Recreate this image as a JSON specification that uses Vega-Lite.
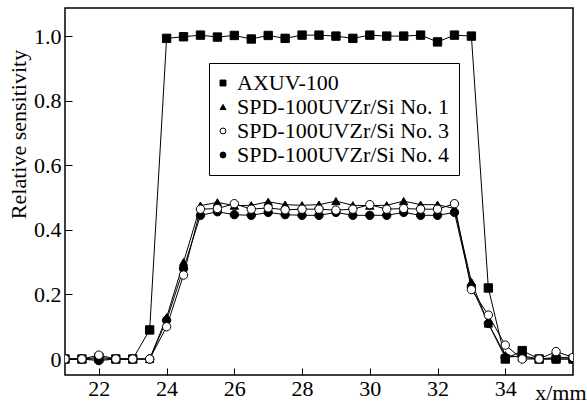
{
  "$schema": "https://vega.github.io/schema/vega-lite/v6.json",
  "width": 508,
  "height": 367,
  "autosize": {"type": "none"},
  "padding": {"left": 65, "top": 8, "right": 14, "bottom": 30},
  "background": "white",
  "config": {
    "font": "Liberation Serif, Times New Roman, serif",
    "view": {"stroke": "black", "strokeWidth": 1.5},
    "axis": {
      "labelFont": "Liberation Serif, Times New Roman, serif",
      "titleFont": "Liberation Serif, Times New Roman, serif",
      "labelColor": "black",
      "titleColor": "black",
      "tickColor": "black",
      "domain": false,
      "grid": false,
      "titleFontWeight": "normal"
    },
    "legend": {
      "labelFont": "Liberation Serif, Times New Roman, serif",
      "labelColor": "black",
      "labelLimit": 400,
      "symbolStrokeColor": "black"
    }
  },
  "data": {
    "values": [
      {"series": "AXUV-100", "x": 21, "y": 0},
      {"series": "AXUV-100", "x": 21.5, "y": 0},
      {"series": "AXUV-100", "x": 22, "y": 0.005},
      {"series": "AXUV-100", "x": 22.5, "y": 0},
      {"series": "AXUV-100", "x": 23, "y": 0},
      {"series": "AXUV-100", "x": 23.5, "y": 0.09},
      {"series": "AXUV-100", "x": 24, "y": 0.993},
      {"series": "AXUV-100", "x": 24.5, "y": 0.998},
      {"series": "AXUV-100", "x": 25, "y": 1.003},
      {"series": "AXUV-100", "x": 25.5, "y": 0.997},
      {"series": "AXUV-100", "x": 26, "y": 1.002},
      {"series": "AXUV-100", "x": 26.5, "y": 0.991},
      {"series": "AXUV-100", "x": 27, "y": 1.002},
      {"series": "AXUV-100", "x": 27.5, "y": 0.993},
      {"series": "AXUV-100", "x": 28, "y": 1.003},
      {"series": "AXUV-100", "x": 28.5, "y": 1.003},
      {"series": "AXUV-100", "x": 29, "y": 1.0},
      {"series": "AXUV-100", "x": 29.5, "y": 0.993},
      {"series": "AXUV-100", "x": 30, "y": 1.003},
      {"series": "AXUV-100", "x": 30.5, "y": 1.0},
      {"series": "AXUV-100", "x": 31, "y": 1.0},
      {"series": "AXUV-100", "x": 31.5, "y": 1.003},
      {"series": "AXUV-100", "x": 32, "y": 0.982},
      {"series": "AXUV-100", "x": 32.5, "y": 1.003},
      {"series": "AXUV-100", "x": 33, "y": 1.0},
      {"series": "AXUV-100", "x": 33.5, "y": 0.22},
      {"series": "AXUV-100", "x": 34, "y": 0.0},
      {"series": "AXUV-100", "x": 34.5, "y": 0.026},
      {"series": "AXUV-100", "x": 35, "y": 0},
      {"series": "AXUV-100", "x": 35.5, "y": 0},
      {"series": "AXUV-100", "x": 36, "y": 0},

      {"series": "SPD-100UVZr/Si No. 4", "x": 21, "y": 0},
      {"series": "SPD-100UVZr/Si No. 4", "x": 21.5, "y": 0},
      {"series": "SPD-100UVZr/Si No. 4", "x": 22, "y": -0.005},
      {"series": "SPD-100UVZr/Si No. 4", "x": 22.5, "y": 0},
      {"series": "SPD-100UVZr/Si No. 4", "x": 23, "y": 0},
      {"series": "SPD-100UVZr/Si No. 4", "x": 23.5, "y": 0},
      {"series": "SPD-100UVZr/Si No. 4", "x": 24, "y": 0.12},
      {"series": "SPD-100UVZr/Si No. 4", "x": 24.5, "y": 0.28},
      {"series": "SPD-100UVZr/Si No. 4", "x": 25, "y": 0.445},
      {"series": "SPD-100UVZr/Si No. 4", "x": 25.5, "y": 0.456},
      {"series": "SPD-100UVZr/Si No. 4", "x": 26, "y": 0.447},
      {"series": "SPD-100UVZr/Si No. 4", "x": 26.5, "y": 0.445},
      {"series": "SPD-100UVZr/Si No. 4", "x": 27, "y": 0.454},
      {"series": "SPD-100UVZr/Si No. 4", "x": 27.5, "y": 0.447},
      {"series": "SPD-100UVZr/Si No. 4", "x": 28, "y": 0.445},
      {"series": "SPD-100UVZr/Si No. 4", "x": 28.5, "y": 0.445},
      {"series": "SPD-100UVZr/Si No. 4", "x": 29, "y": 0.454},
      {"series": "SPD-100UVZr/Si No. 4", "x": 29.5, "y": 0.445},
      {"series": "SPD-100UVZr/Si No. 4", "x": 30, "y": 0.445},
      {"series": "SPD-100UVZr/Si No. 4", "x": 30.5, "y": 0.445},
      {"series": "SPD-100UVZr/Si No. 4", "x": 31, "y": 0.454},
      {"series": "SPD-100UVZr/Si No. 4", "x": 31.5, "y": 0.445},
      {"series": "SPD-100UVZr/Si No. 4", "x": 32, "y": 0.445},
      {"series": "SPD-100UVZr/Si No. 4", "x": 32.5, "y": 0.454},
      {"series": "SPD-100UVZr/Si No. 4", "x": 33, "y": 0.225},
      {"series": "SPD-100UVZr/Si No. 4", "x": 33.5, "y": 0.11},
      {"series": "SPD-100UVZr/Si No. 4", "x": 34, "y": 0.005},
      {"series": "SPD-100UVZr/Si No. 4", "x": 34.5, "y": 0.01},
      {"series": "SPD-100UVZr/Si No. 4", "x": 35, "y": 0},
      {"series": "SPD-100UVZr/Si No. 4", "x": 35.5, "y": 0},
      {"series": "SPD-100UVZr/Si No. 4", "x": 36, "y": 0},

      {"series": "SPD-100UVZr/Si No. 1", "x": 21, "y": 0},
      {"series": "SPD-100UVZr/Si No. 1", "x": 21.5, "y": 0},
      {"series": "SPD-100UVZr/Si No. 1", "x": 22, "y": 0},
      {"series": "SPD-100UVZr/Si No. 1", "x": 22.5, "y": 0},
      {"series": "SPD-100UVZr/Si No. 1", "x": 23, "y": 0},
      {"series": "SPD-100UVZr/Si No. 1", "x": 23.5, "y": 0},
      {"series": "SPD-100UVZr/Si No. 1", "x": 24, "y": 0.129},
      {"series": "SPD-100UVZr/Si No. 1", "x": 24.5, "y": 0.3},
      {"series": "SPD-100UVZr/Si No. 1", "x": 25, "y": 0.475},
      {"series": "SPD-100UVZr/Si No. 1", "x": 25.5, "y": 0.485},
      {"series": "SPD-100UVZr/Si No. 1", "x": 26, "y": 0.475},
      {"series": "SPD-100UVZr/Si No. 1", "x": 26.5, "y": 0.476},
      {"series": "SPD-100UVZr/Si No. 1", "x": 27, "y": 0.487},
      {"series": "SPD-100UVZr/Si No. 1", "x": 27.5, "y": 0.478},
      {"series": "SPD-100UVZr/Si No. 1", "x": 28, "y": 0.476},
      {"series": "SPD-100UVZr/Si No. 1", "x": 28.5, "y": 0.478},
      {"series": "SPD-100UVZr/Si No. 1", "x": 29, "y": 0.489},
      {"series": "SPD-100UVZr/Si No. 1", "x": 29.5, "y": 0.476},
      {"series": "SPD-100UVZr/Si No. 1", "x": 30, "y": 0.475},
      {"series": "SPD-100UVZr/Si No. 1", "x": 30.5, "y": 0.476},
      {"series": "SPD-100UVZr/Si No. 1", "x": 31, "y": 0.489},
      {"series": "SPD-100UVZr/Si No. 1", "x": 31.5, "y": 0.478},
      {"series": "SPD-100UVZr/Si No. 1", "x": 32, "y": 0.478},
      {"series": "SPD-100UVZr/Si No. 1", "x": 32.5, "y": 0.466},
      {"series": "SPD-100UVZr/Si No. 1", "x": 33, "y": 0.239},
      {"series": "SPD-100UVZr/Si No. 1", "x": 33.5, "y": 0.11},
      {"series": "SPD-100UVZr/Si No. 1", "x": 34, "y": 0.012},
      {"series": "SPD-100UVZr/Si No. 1", "x": 34.5, "y": 0.005},
      {"series": "SPD-100UVZr/Si No. 1", "x": 35, "y": 0},
      {"series": "SPD-100UVZr/Si No. 1", "x": 35.5, "y": 0.005},
      {"series": "SPD-100UVZr/Si No. 1", "x": 36, "y": 0.005},

      {"series": "SPD-100UVZr/Si No. 3", "x": 21, "y": 0},
      {"series": "SPD-100UVZr/Si No. 3", "x": 21.5, "y": 0},
      {"series": "SPD-100UVZr/Si No. 3", "x": 22, "y": 0.012},
      {"series": "SPD-100UVZr/Si No. 3", "x": 22.5, "y": 0},
      {"series": "SPD-100UVZr/Si No. 3", "x": 23, "y": 0},
      {"series": "SPD-100UVZr/Si No. 3", "x": 23.5, "y": 0},
      {"series": "SPD-100UVZr/Si No. 3", "x": 24, "y": 0.1},
      {"series": "SPD-100UVZr/Si No. 3", "x": 24.5, "y": 0.26},
      {"series": "SPD-100UVZr/Si No. 3", "x": 25, "y": 0.464},
      {"series": "SPD-100UVZr/Si No. 3", "x": 25.5, "y": 0.466},
      {"series": "SPD-100UVZr/Si No. 3", "x": 26, "y": 0.481},
      {"series": "SPD-100UVZr/Si No. 3", "x": 26.5, "y": 0.464},
      {"series": "SPD-100UVZr/Si No. 3", "x": 27, "y": 0.468},
      {"series": "SPD-100UVZr/Si No. 3", "x": 27.5, "y": 0.462},
      {"series": "SPD-100UVZr/Si No. 3", "x": 28, "y": 0.464},
      {"series": "SPD-100UVZr/Si No. 3", "x": 28.5, "y": 0.464},
      {"series": "SPD-100UVZr/Si No. 3", "x": 29, "y": 0.461},
      {"series": "SPD-100UVZr/Si No. 3", "x": 29.5, "y": 0.464},
      {"series": "SPD-100UVZr/Si No. 3", "x": 30, "y": 0.478},
      {"series": "SPD-100UVZr/Si No. 3", "x": 30.5, "y": 0.464},
      {"series": "SPD-100UVZr/Si No. 3", "x": 31, "y": 0.466},
      {"series": "SPD-100UVZr/Si No. 3", "x": 31.5, "y": 0.464},
      {"series": "SPD-100UVZr/Si No. 3", "x": 32, "y": 0.464},
      {"series": "SPD-100UVZr/Si No. 3", "x": 32.5, "y": 0.481},
      {"series": "SPD-100UVZr/Si No. 3", "x": 33, "y": 0.215},
      {"series": "SPD-100UVZr/Si No. 3", "x": 33.5, "y": 0.136},
      {"series": "SPD-100UVZr/Si No. 3", "x": 34, "y": 0.043},
      {"series": "SPD-100UVZr/Si No. 3", "x": 34.5, "y": 0},
      {"series": "SPD-100UVZr/Si No. 3", "x": 35, "y": 0},
      {"series": "SPD-100UVZr/Si No. 3", "x": 35.5, "y": 0.023},
      {"series": "SPD-100UVZr/Si No. 3", "x": 36, "y": 0.005}
    ]
  },
  "encoding": {
    "x": {
      "field": "x",
      "type": "quantitative",
      "scale": {"domain": [21, 36], "nice": false, "zero": false},
      "axis": {
        "values": [22, 24, 26, 28, 30, 32, 34],
        "title": "x/mm",
        "titleFontSize": 22,
        "titleAlign": "right",
        "titleBaseline": "alphabetic",
        "titleX": 521,
        "titleY": 24,
        "labelFontSize": 22,
        "tickSize": -7,
        "labelPadding": 10,
        "labelFlush": false
      }
    },
    "y": {
      "field": "y",
      "type": "quantitative",
      "scale": {"domain": [-0.0495, 1.087], "nice": false, "zero": false},
      "axis": {
        "values": [0, 0.2, 0.4, 0.6, 0.8, 1.0],
        "labelExpr": "datum.value == 0 ? '0' : format(datum.value, '.1f')",
        "title": "Relative sensitivity",
        "titleFontSize": 22,
        "titleAngle": -90,
        "titleAlign": "center",
        "titleBaseline": "alphabetic",
        "titleX": -40,
        "titleY": 126,
        "labelFontSize": 22,
        "tickSize": -7,
        "labelPadding": 11,
        "labelFlush": false
      }
    }
  },
  "layer": [
    {
      "mark": {"type": "line", "color": "black", "strokeWidth": 1, "clip": true},
      "encoding": {
        "detail": {"field": "series"}
      }
    },
    {
      "mark": {"type": "point", "filled": true, "strokeWidth": 1, "size": 70, "opacity": 1, "clip": true},
      "encoding": {
        "shape": {
          "field": "series",
          "type": "nominal",
          "scale": {
            "domain": ["AXUV-100", "SPD-100UVZr/Si No. 1", "SPD-100UVZr/Si No. 3", "SPD-100UVZr/Si No. 4"],
            "range": ["square", "triangle-up", "circle", "circle"]
          },
          "legend": {
            "title": null,
            "orient": "none",
            "legendX": 144,
            "legendY": 55,
            "padding": 9,
            "strokeColor": "black",
            "fillColor": "white",
            "labelFontSize": 22,
            "labelLimit": 400,
            "symbolSize": 35,
            "symbolOffset": -6,
            "rowPadding": 2,
            "labelOffset": 3,
            "symbolStrokeWidth": 1
          }
        },
        "fill": {
          "field": "series",
          "type": "nominal",
          "scale": {
            "domain": ["AXUV-100", "SPD-100UVZr/Si No. 1", "SPD-100UVZr/Si No. 3", "SPD-100UVZr/Si No. 4"],
            "range": ["black", "black", "white", "black"]
          },
          "legend": {
            "title": null,
            "orient": "none",
            "legendX": 144,
            "legendY": 55,
            "padding": 9,
            "strokeColor": "black",
            "fillColor": "white",
            "labelFontSize": 22,
            "labelLimit": 400,
            "symbolSize": 35,
            "symbolOffset": -6,
            "rowPadding": 2,
            "labelOffset": 3,
            "symbolStrokeWidth": 1
          }
        },
        "stroke": {
          "field": "series",
          "type": "nominal",
          "scale": {
            "domain": ["AXUV-100", "SPD-100UVZr/Si No. 1", "SPD-100UVZr/Si No. 3", "SPD-100UVZr/Si No. 4"],
            "range": ["black", "black", "black", "black"]
          },
          "legend": {
            "title": null,
            "orient": "none",
            "legendX": 144,
            "legendY": 55,
            "padding": 9,
            "strokeColor": "black",
            "fillColor": "white",
            "labelFontSize": 22,
            "labelLimit": 400,
            "symbolSize": 35,
            "symbolOffset": -6,
            "rowPadding": 2,
            "labelOffset": 3,
            "symbolStrokeWidth": 1
          }
        }
      }
    }
  ]
}
